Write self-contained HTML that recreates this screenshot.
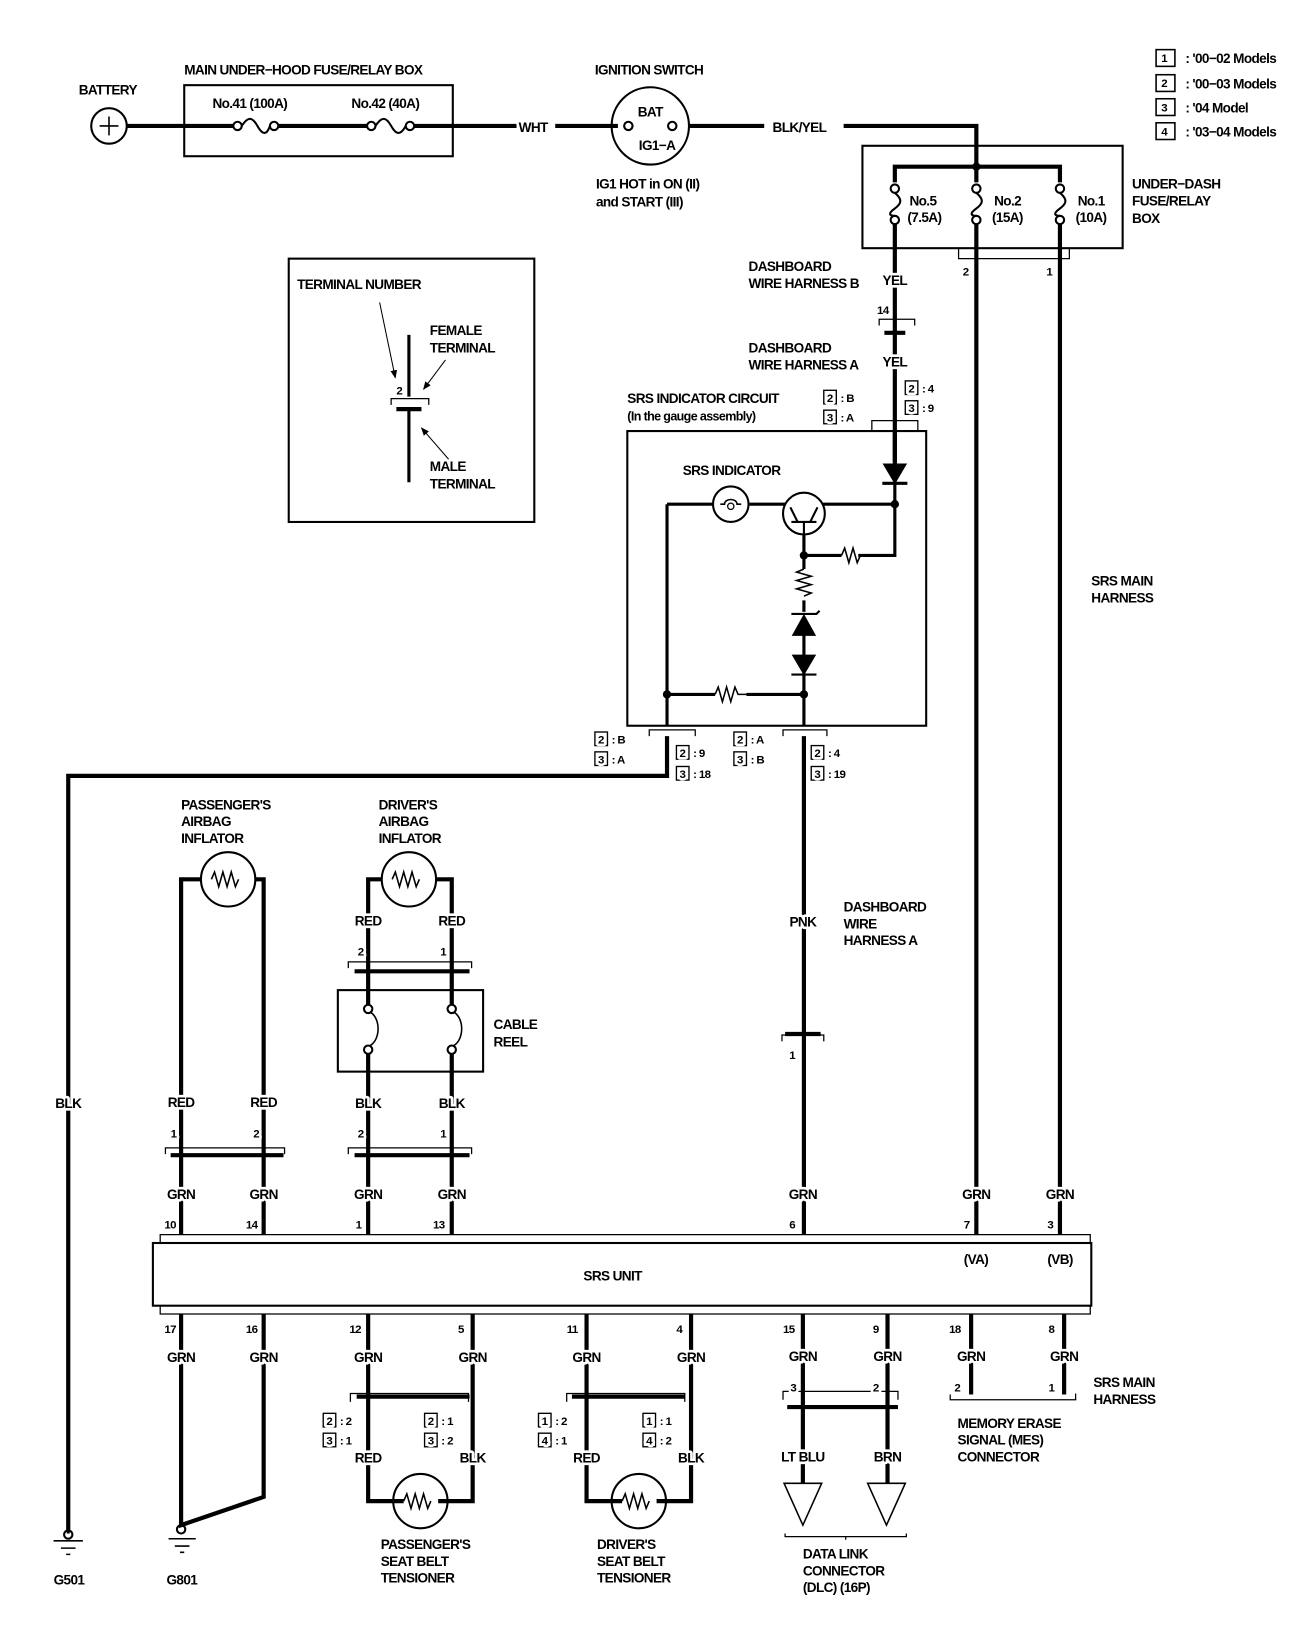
<!DOCTYPE html>
<html><head><meta charset="utf-8"><style>
html,body{margin:0;padding:0;background:#fff;}
svg{display:block;}
text{font-family:"Liberation Sans",sans-serif;font-weight:bold;font-size:13px;fill:#000;letter-spacing:-0.6px;paint-order:stroke;stroke:#fff;stroke-width:5px;stroke-linejoin:round;}
.s{font-size:11px;}
.w{text-anchor:middle;}
</style></head><body>
<svg width="1312" height="1638" viewBox="-1.3 0.5 1255.5 1567.5" preserveAspectRatio="none" xmlns="http://www.w3.org/2000/svg">
<defs>
<marker id="ar" viewBox="0 0 10 10" refX="9" refY="5" markerWidth="8" markerHeight="8" orient="auto"><path d="M0,1 L10,5 L0,9 z" fill="#000"/></marker>
</defs>
<g fill="none" stroke="#000" stroke-width="2">
<circle cx="103" cy="121" r="17"/>
<path d="M94 121h18M103 112v18" stroke-width="1.5"/>
<path d="M120 121H222M265 121H350M395 121H493M530 121H590" stroke-width="4"/>
<rect x="175" y="82" width="257" height="68"/>
<circle cx="226" cy="121" r="4" fill="#fff"/><circle cx="261" cy="121" r="4" fill="#fff"/>
<path d="M230 121c6-9 10-9 15 0s9 9 12 0"/>
<circle cx="354" cy="121" r="4" fill="#fff"/><circle cx="391" cy="121" r="4" fill="#fff"/>
<path d="M358 121c6-9 10-9 15 0s9 9 14 0"/>
<circle cx="621" cy="121" r="37"/>
<circle cx="600" cy="121" r="4" fill="#fff"/><circle cx="642" cy="121" r="4" fill="#fff"/>
<path d="M658 121H730M806 121H933V160" stroke-width="4"/>
<rect x="824" y="140" width="249" height="98"/>
<path d="M855 175V160H1013V175M933 160V175" stroke-width="4"/>
<circle cx="933" cy="160" r="3" fill="#000"/>
<g>
<circle cx="855" cy="181" r="4" fill="#fff"/><circle cx="855" cy="211" r="4" fill="#fff"/><path d="M855 185c7 6 7 10 0 15s-5 7 0 7"/>
<circle cx="933" cy="181" r="4" fill="#fff"/><circle cx="933" cy="211" r="4" fill="#fff"/><path d="M933 185c7 6 7 10 0 15s-5 7 0 7"/>
<circle cx="1013" cy="181" r="4" fill="#fff"/><circle cx="1013" cy="211" r="4" fill="#fff"/><path d="M1013 185c7 6 7 10 0 15s-5 7 0 7"/>
</g>
<path d="M855 215V318M855 320V442M933 215V1182M1013 215V1182" stroke-width="4"/>
<path d="M916 238v10h106v-10" stroke-width="1.2"/>
<path d="M840 312v-6h34v6" stroke-width="1.2"/>
<path d="M845 319h20" stroke-width="4"/>
<path d="M833 413v-10h44v10" stroke-width="1.2"/>
<rect x="1105" y="48" width="18" height="16" stroke-width="1.5"/>
<rect x="1105" y="72" width="18" height="16" stroke-width="1.5"/>
<rect x="1105" y="95" width="18" height="16" stroke-width="1.5"/>
<rect x="1105" y="118" width="18" height="16" stroke-width="1.5"/>
<rect x="275" y="248" width="235" height="252"/>
<path d="M390 321V380M390 393V462" stroke-width="3"/>
<path d="M373 388v-6h36v6" stroke-width="1.2"/>
<path d="M378 392h24" stroke-width="4"/>
<path d="M362 290L377 362" stroke-width="1" marker-end="url(#ar)"/>
<path d="M425 345L404 373" stroke-width="1" marker-end="url(#ar)"/>
<path d="M428 440L402 410" stroke-width="1" marker-end="url(#ar)"/>
<rect x="599" y="413" width="286" height="282"/>
<path d="M855 413V448" stroke-width="4"/>
<path d="M845 445h20l-10 17z" fill="#000"/><path d="M843 463h24" stroke-width="3"/>
<path d="M855 463V532H820M804 532H768M768 532V545M768 575V586M768 637V665" stroke-width="3"/>
<path d="M637 483H680M716 483H750M786 483H855" stroke-width="3"/>
<path d="M637 483V665H683M713 665H768V695" stroke-width="3"/>
<path d="M637 665V695" stroke-width="3"/>
<circle cx="698" cy="483" r="17" stroke-width="2"/>
<path d="M688 483h4c0-6 12-6 12 0h4" stroke-width="1.5"/><circle cx="698" cy="485" r="3" stroke-width="1.2"/>
<circle cx="768" cy="492" r="20" stroke-width="2"/>
<path d="M756 500h24M768 500v12M762 500l-7-14M774 500l7-14" stroke-width="2"/>
<path d="M768 512V532" stroke-width="3"/>
<circle cx="768" cy="532" r="3" fill="#000"/><circle cx="855" cy="483" r="3" fill="#000"/>
<circle cx="637" cy="665" r="3" fill="#000"/><circle cx="768" cy="665" r="3" fill="#000"/>
<path d="M804 532l3-7 4 14 4-14 4 14 3-7" stroke-width="1.5"/>
<path d="M768 545l-7 3 14 4-14 4 14 4-14 4 14 4-7 3" stroke-width="1.5"/>
<path d="M683 665l3-7 4 14 4-14 4 14 4-14 3 7h8" stroke-width="1.5"/>
<path d="M758 608h20l-10-18z" fill="#000"/><path d="M756 588h24l3-3" stroke-width="2"/>
<path d="M758 628h20l-10 17z" fill="#000"/><path d="M756 646h24" stroke-width="2"/>
<path d="M768 608V628" stroke-width="3"/>
<path d="M620 705v-6h44v6M748 705v-6h42v6" stroke-width="1.2"/>
<path d="M637 705V743H64V1465M768 705V1182" stroke-width="4"/>
<path d="M750 990h34" stroke-width="4"/><path d="M747 997v-6h40v6" stroke-width="1.2"/>
<g stroke-width="1.3">
<rect x="787" y="374" width="12" height="13"/><rect x="787" y="393" width="12" height="13"/>
<rect x="865" y="365" width="12" height="13"/><rect x="865" y="384" width="12" height="13"/>
<rect x="568" y="701" width="12" height="13"/><rect x="568" y="720" width="12" height="13"/>
<rect x="646" y="714" width="12" height="13"/><rect x="646" y="734" width="12" height="13"/>
<rect x="701" y="701" width="12" height="13"/><rect x="701" y="720" width="12" height="13"/>
<rect x="775" y="714" width="12" height="13"/><rect x="775" y="734" width="12" height="13"/>
<rect x="308" y="1353" width="12" height="13"/><rect x="308" y="1372" width="12" height="13"/>
<rect x="405" y="1353" width="12" height="13"/><rect x="405" y="1372" width="12" height="13"/>
<rect x="514" y="1353" width="12" height="13"/><rect x="514" y="1372" width="12" height="13"/>
<rect x="614" y="1353" width="12" height="13"/><rect x="614" y="1372" width="12" height="13"/>
</g>
<circle cx="217" cy="842" r="26"/>
<path d="M172 1182V842H191M243 842H251V1182" stroke-width="4"/>
<path d="M201 842l3-7 4 14 4-14 4 14 4-14 4 14 3-7" stroke-width="1.5"/>
<path d="M157 1105v-6h114v6" stroke-width="1.2"/><path d="M162 1106h108" stroke-width="4"/>
<circle cx="390" cy="842" r="26"/>
<path d="M351 1182V842H364M416 842H431V1182" stroke-width="4"/>
<path d="M374 842l3-7 4 14 4-14 4 14 4-14 4 14 3-7" stroke-width="1.5"/>
<path d="M332 927v-6h118v6" stroke-width="1.2"/><path d="M338 930h110" stroke-width="4"/>
<path d="M332 1105v-6h118v6" stroke-width="1.2"/><path d="M338 1106h110" stroke-width="4"/>
<rect x="322" y="948" width="139" height="78" fill="#fff"/>
<circle cx="351" cy="966" r="4" fill="#fff"/><circle cx="351" cy="1005" r="4" fill="#fff"/>
<path d="M353 969c10 6 10 26 0 32" stroke-width="1.5"/>
<circle cx="431" cy="966" r="4" fill="#fff"/><circle cx="431" cy="1005" r="4" fill="#fff"/>
<path d="M433 969c10 6 10 26 0 32" stroke-width="1.5"/>
<path d="M351 948V962M351 1009V1026M431 948V962M431 1009V1026" stroke-width="4"/>
<path d="M152 1190v-8h890v8M152 1250v8h890v-8" stroke-width="1.2"/>
<rect x="145" y="1190" width="898" height="60"/>
<path d="M172 1258V1460L251 1433V1258" stroke-width="4"/>
<path d="M64 1465v3" stroke-width="3"/>
<circle cx="64" cy="1469" r="4"/><circle cx="172" cy="1464" r="4"/>
<path d="M50 1475h28M57 1482h14M62 1488h4M160 1473h26M166 1480h14M171 1486h4" stroke-width="1.5"/>
<path d="M351 1258V1437H385M418 1437H451V1258" stroke-width="4"/>
<circle cx="401" cy="1437" r="26"/><path d="M385 1437l3-7 4 14 4-14 4 14 4-14 4 14 3-7" stroke-width="1.5"/>
<path d="M560 1258V1437H594M627 1437H660V1258" stroke-width="4"/>
<circle cx="610" cy="1437" r="26"/><path d="M594 1437l3-7 4 14 4-14 4 14 4-14 4 14 3-7" stroke-width="1.5"/>
<path d="M334 1342v-8h113v8M541 1342v-8h113v8" stroke-width="1.2"/>
<path d="M340 1337h108M546 1337h108" stroke-width="4"/>
<path d="M767 1258V1420M848 1258V1420M928 1258V1335M1017 1258V1335" stroke-width="4"/>
<path d="M748 1340v-8h110v8" stroke-width="1.2"/><path d="M752 1347h106" stroke-width="4"/>
<path d="M749 1420h36l-18 40zM829 1420h36l-18 40z" stroke-width="1.5"/>
<path d="M750 1468v3h116v-3M808 1471v3" stroke-width="1.2"/>
<path d="M908 1335v5h120v-6" stroke-width="1.2"/>
</g>
<text x="74" y="91">BATTERY</text>
<text x="175" y="72">MAIN UNDER−HOOD FUSE/RELAY BOX</text>
<text x="202" y="104">No.41 (100A)</text>
<text x="335" y="104">No.42 (40A)</text>
<text x="495" y="127">WHT</text>
<text x="568" y="72">IGNITION SWITCH</text>
<text x="609" y="112">BAT</text>
<text x="610" y="144">IG1−A</text>
<text x="569" y="181">IG1 HOT in ON (II)</text>
<text x="569" y="198">and START (III)</text>
<text x="738" y="127">BLK/YEL</text>
<text x="1133" y="61">: '00−02 Models</text>
<text x="1110" y="60" class="s">1</text>
<text x="1133" y="85">: '00−03 Models</text>
<text x="1110" y="84" class="s">2</text>
<text x="1133" y="108">: '04 Model</text>
<text x="1110" y="107" class="s">3</text>
<text x="1133" y="131">: '03−04 Models</text>
<text x="1110" y="130" class="s">4</text>
<text x="869" y="197">No.5</text><text x="867" y="213">(7.5A)</text>
<text x="950" y="197">No.2</text><text x="948" y="213">(15A)</text>
<text x="1030" y="197">No.1</text><text x="1028" y="213">(10A)</text>
<text x="1082" y="181">UNDER−DASH</text>
<text x="1082" y="197">FUSE/RELAY</text>
<text x="1082" y="214">BOX</text>
<text x="920" y="264" class="s">2</text>
<text x="1000" y="264" class="s">1</text>
<text x="715" y="260">DASHBOARD</text>
<text x="715" y="276">WIRE HARNESS B</text>
<text x="855" y="273" class="w">YEL</text>
<text x="838" y="301" class="s">14</text>
<text x="715" y="338">DASHBOARD</text>
<text x="715" y="354">WIRE HARNESS A</text>
<text x="855" y="351" class="w">YEL</text>
<text x="599" y="386">SRS INDICATOR CIRCUIT</text>
<text x="599" y="403" style="font-size:12px">(In the gauge assembly)</text>
<text x="790" y="385" class="s">2</text><text x="803" y="385" class="s">: B</text>
<text x="790" y="404" class="s">3</text><text x="803" y="404" class="s">: A</text>
<text x="868" y="376" class="s">2</text><text x="881" y="376" class="s">: 4</text>
<text x="868" y="395" class="s">3</text><text x="881" y="395" class="s">: 9</text>
<text x="283" y="277">TERMINAL NUMBER</text>
<text x="410" y="321">FEMALE</text>
<text x="410" y="338">TERMINAL</text>
<text x="378" y="378" class="s">2</text>
<text x="410" y="451">MALE</text>
<text x="410" y="468">TERMINAL</text>
<text x="652" y="455">SRS INDICATOR</text>
<text x="571" y="712" class="s">2</text><text x="584" y="712" class="s">: B</text>
<text x="571" y="731" class="s">3</text><text x="584" y="731" class="s">: A</text>
<text x="649" y="725" class="s">2</text><text x="662" y="725" class="s">: 9</text>
<text x="649" y="745" class="s">3</text><text x="662" y="745" class="s">: 18</text>
<text x="704" y="712" class="s">2</text><text x="717" y="712" class="s">: A</text>
<text x="704" y="731" class="s">3</text><text x="717" y="731" class="s">: B</text>
<text x="778" y="725" class="s">2</text><text x="791" y="725" class="s">: 4</text>
<text x="778" y="745" class="s">3</text><text x="791" y="745" class="s">: 19</text>
<text x="1043" y="561">SRS MAIN</text>
<text x="1043" y="577">HARNESS</text>
<text x="172" y="775">PASSENGER'S</text>
<text x="172" y="791">AIRBAG</text>
<text x="172" y="807">INFLATOR</text>
<text x="361" y="775">DRIVER'S</text>
<text x="361" y="791">AIRBAG</text>
<text x="361" y="807">INFLATOR</text>
<text x="351" y="886" class="w">RED</text><text x="431" y="886" class="w">RED</text>
<text x="341" y="915" class="s">2</text><text x="420" y="915" class="s">1</text>
<text x="471" y="985">CABLE</text><text x="471" y="1002">REEL</text>
<text x="767" y="887" class="w">PNK</text>
<text x="806" y="873">DASHBOARD</text>
<text x="806" y="889">WIRE</text>
<text x="806" y="905">HARNESS A</text>
<text x="754" y="1014" class="s">1</text>
<text x="64" y="1061" class="w">BLK</text>
<text x="172" y="1060" class="w">RED</text><text x="251" y="1060" class="w">RED</text>
<text x="351" y="1061" class="w">BLK</text><text x="431" y="1061" class="w">BLK</text>
<text x="162" y="1089" class="s">1</text><text x="241" y="1089" class="s">2</text>
<text x="341" y="1089" class="s">2</text><text x="420" y="1089" class="s">1</text>
<text x="172" y="1148" class="w">GRN</text><text x="251" y="1148" class="w">GRN</text>
<text x="351" y="1148" class="w">GRN</text><text x="431" y="1148" class="w">GRN</text>
<text x="767" y="1148" class="w">GRN</text><text x="933" y="1148" class="w">GRN</text><text x="1013" y="1148" class="w">GRN</text>
<text x="156" y="1176" class="s">10</text><text x="234" y="1176" class="s">14</text>
<text x="339" y="1176" class="s">1</text><text x="413" y="1176" class="s">13</text>
<text x="754" y="1176" class="s">6</text><text x="921" y="1176" class="s">7</text><text x="1001" y="1176" class="s">3</text>
<text x="921" y="1210">(VA)</text><text x="1001" y="1210">(VB)</text>
<text x="557" y="1226">SRS UNIT</text>
<text x="156" y="1276" class="s">17</text><text x="234" y="1276" class="s">16</text>
<text x="333" y="1276" class="s">12</text><text x="437" y="1276" class="s">5</text>
<text x="541" y="1276" class="s">11</text><text x="646" y="1276" class="s">4</text>
<text x="748" y="1276" class="s">15</text><text x="834" y="1276" class="s">9</text>
<text x="907" y="1276" class="s">18</text><text x="1002" y="1276" class="s">8</text>
<text x="172" y="1304" class="w">GRN</text><text x="251" y="1304" class="w">GRN</text>
<text x="351" y="1304" class="w">GRN</text><text x="451" y="1304" class="w">GRN</text>
<text x="560" y="1304" class="w">GRN</text><text x="660" y="1304" class="w">GRN</text>
<text x="767" y="1303" class="w">GRN</text><text x="848" y="1303" class="w">GRN</text>
<text x="928" y="1303" class="w">GRN</text><text x="1017" y="1303" class="w">GRN</text>
<text x="755" y="1332" class="s">3</text><text x="834" y="1332" class="s">2</text>
<text x="912" y="1332" class="s">2</text><text x="1002" y="1332" class="s">1</text>
<text x="1045" y="1328">SRS MAIN</text><text x="1045" y="1344">HARNESS</text>
<text x="915" y="1367">MEMORY ERASE</text>
<text x="915" y="1383">SIGNAL (MES)</text>
<text x="915" y="1399">CONNECTOR</text>
<text x="311" y="1364" class="s">2</text><text x="324" y="1364" class="s">: 2</text>
<text x="311" y="1383" class="s">3</text><text x="324" y="1383" class="s">: 1</text>
<text x="408" y="1364" class="s">2</text><text x="421" y="1364" class="s">: 1</text>
<text x="408" y="1383" class="s">3</text><text x="421" y="1383" class="s">: 2</text>
<text x="517" y="1364" class="s">1</text><text x="530" y="1364" class="s">: 2</text>
<text x="517" y="1383" class="s">4</text><text x="530" y="1383" class="s">: 1</text>
<text x="617" y="1364" class="s">1</text><text x="630" y="1364" class="s">: 1</text>
<text x="617" y="1383" class="s">4</text><text x="630" y="1383" class="s">: 2</text>
<text x="351" y="1400" class="w">RED</text><text x="451" y="1400" class="w">BLK</text>
<text x="560" y="1400" class="w">RED</text><text x="660" y="1400" class="w">BLK</text>
<text x="767" y="1399" class="w">LT BLU</text><text x="848" y="1399" class="w">BRN</text>
<text x="363" y="1483">PASSENGER'S</text><text x="363" y="1499">SEAT BELT</text><text x="363" y="1515">TENSIONER</text>
<text x="570" y="1483">DRIVER'S</text><text x="570" y="1499">SEAT BELT</text><text x="570" y="1515">TENSIONER</text>
<text x="767" y="1492">DATA LINK</text><text x="767" y="1508">CONNECTOR</text><text x="767" y="1524">(DLC) (16P)</text>
<text x="50" y="1517">G501</text><text x="158" y="1517">G801</text>
</svg>
</body></html>
